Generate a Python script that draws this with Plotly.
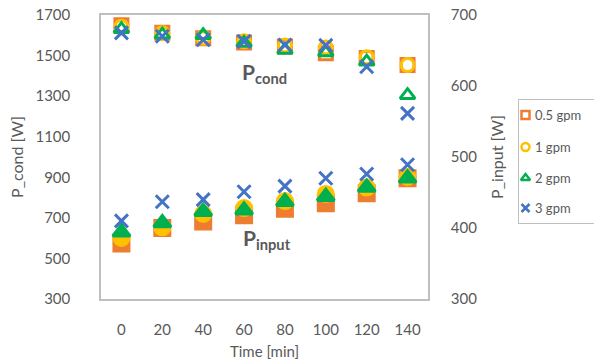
import plotly.graph_objects as go

# Time axis (minutes)
time_min = [0, 20, 40, 60, 80, 100, 120, 140]

# Condenser power [W] per flow rate
p_cond_05 = [1650, 1612, 1585, 1565, 1545, 1512, 1488, 1453]
p_cond_1 = [1642, 1610, 1588, 1570, 1550, 1540, 1492, 1453]
p_cond_2 = [1630, 1603, 1600, 1562, 1528, 1515, 1470, 1305]
p_cond_3 = [1612, 1595, 1578, 1570, 1552, 1550, 1445, 1215]

# Input power [W] per flow rate
p_in_05 = [378, 400, 409, 418, 427, 435, 449, 470]
p_in_1 = [386, 401, 420, 428, 438, 448, 457, 472]
p_in_2 = [394, 407, 423, 425, 437, 444, 457, 470]
p_in_3 = [410, 437, 440, 451, 459, 470, 476, 489]

labels = ["0.5 gpm", "1 gpm", "2 gpm", "3 gpm"]
colors = ["#ED7D31", "#FFC000", "#00B050", "#4472C4"]
open_symbols = ["square-open", "circle-open", "triangle-up-open", "x-thin-open"]
filled_symbols = ["square", "circle", "triangle-up", "x-thin-open"]
cond_series = [p_cond_05, p_cond_1, p_cond_2, p_cond_3]
input_series = [p_in_05, p_in_1, p_in_2, p_in_3]

FONT = "Lato, Open Sans, sans-serif"
GREY = "#595959"
FRAME = "#BFBFBF"

W, H = 594, 364
ML, MT, MB = 101, 15, 65
PLOT_RIGHT = 428                      # right edge of the plotting frame (px)
x_dom_end = (PLOT_RIGHT - ML) / (W - ML)

fig = go.Figure()

for lab, col, sym, ys in zip(labels, colors, open_symbols, cond_series):
    fig.add_trace(go.Scatter(
        x=time_min, y=ys, mode="markers", name=lab, showlegend=False,
        marker=dict(symbol=sym, size=13, color=col,
                    line=dict(color=col, width=3)),
    ))

for lab, col, sym, ys in zip(labels, colors, filled_symbols, input_series):
    fig.add_trace(go.Scatter(
        x=time_min, y=ys, mode="markers", name=lab, yaxis="y2",
        showlegend=False,
        marker=dict(symbol=sym, size=15 if sym != "x-thin-open" else 13,
                    color=col, line=dict(color=col, width=3)),
    ))

# Compact legend drawn on a small inset axis (pixel-like coordinates)
LEG_L, LEG_R, LEG_T, LEG_B = 519, 594, 100, 223
leg_rows = [115, 147, 178, 208]
for lab, col, sym, row in zip(labels, colors, open_symbols, leg_rows):
    fig.add_trace(go.Scatter(
        x=[525.5], y=[row], xaxis="x3", yaxis="y3", mode="markers",
        showlegend=False, hoverinfo="skip",
        marker=dict(symbol=sym, size=8, color=col,
                    line=dict(color=col, width=2.5)),
    ))
    fig.add_annotation(x=533, y=row, xref="x3", yref="y3", text=lab,
                       showarrow=False, xanchor="left", yanchor="middle",
                       font=dict(family=FONT, size=13, color=GREY))

fig.add_annotation(x=70, y=1414, xref="x", yref="y", showarrow=False,
                   text="<b>P<sub>cond</sub></b>",
                   font=dict(family=FONT, size=21, color=GREY))
fig.add_annotation(x=71, y=595, xref="x", yref="y", showarrow=False,
                   text="<b>P<sub>input</sub></b>",
                   font=dict(family=FONT, size=21, color=GREY))

axis_line = dict(showline=True, linecolor=FRAME, linewidth=1.5,
                 showgrid=False, zeroline=False, ticks="")

plot_h = H - MT - MB
fig.update_layout(
    width=W, height=H,
    margin=dict(l=ML, r=0, t=MT, b=MB, autoexpand=False),
    paper_bgcolor="white", plot_bgcolor="white",
    font=dict(family=FONT, size=15, color=GREY),
    showlegend=False,
    xaxis=dict(domain=[0, x_dom_end], range=[-10, 150], tickvals=time_min,
               mirror=True, ticklabelstandoff=16,
               title=dict(text="Time [min]", standoff=10,
                          font=dict(size=15)),
               **axis_line),
    yaxis=dict(range=[300, 1700], dtick=200, tick0=300,
               ticklabelstandoff=26,
               title=dict(text="P_cond [W]", standoff=8,
                          font=dict(size=16)),
               **axis_line),
    yaxis2=dict(range=[300, 700], dtick=100, tick0=300, overlaying="y",
                side="right", anchor="x", ticklabelstandoff=18,
                title=dict(text="P_input [W]", standoff=16,
                           font=dict(size=16)),
                **axis_line),
    xaxis3=dict(domain=[(LEG_L - ML) / (W - ML), 1.0], range=[LEG_L, LEG_R],
                anchor="y3", showticklabels=False, showgrid=False,
                zeroline=False, showline=True, mirror=True,
                linecolor=FRAME, linewidth=1),
    yaxis3=dict(domain=[(H - MB - LEG_B) / plot_h, (H - MB - LEG_T) / plot_h],
                range=[LEG_B, LEG_T], anchor="x3", showticklabels=False,
                showgrid=False, zeroline=False, showline=True, mirror=True,
                linecolor=FRAME, linewidth=1),
)

fig.write_html("out.html")
